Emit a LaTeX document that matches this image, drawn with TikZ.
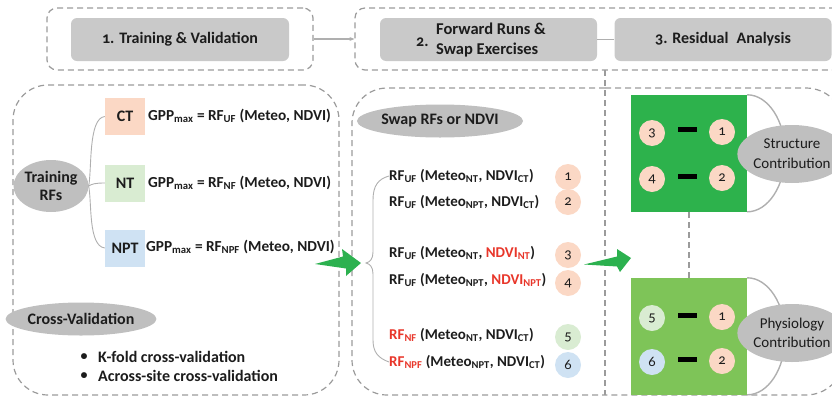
\documentclass[tikz,border=0pt]{standalone}
\usepackage{fontspec}
\setmainfont{Carlito}[Numbers=OldStyle]
\usetikzlibrary{shapes.geometric,arrows.meta,calc}
\newcommand{\fsz}[2]{\fontsize{#1}{#2}\selectfont}
\newcommand{\sbs}[1]{\textsubscript{#1}}
\definecolor{dashc}{RGB}{155,155,155}
\definecolor{boxgray}{RGB}{201,201,201}
\definecolor{ellgray}{RGB}{191,191,191}
\definecolor{pinkc}{RGB}{251,216,197}
\definecolor{greenc}{RGB}{217,236,210}
\definecolor{bluec}{RGB}{207,226,243}
\definecolor{dgreen}{RGB}{45,178,76}
\definecolor{lgreen}{RGB}{126,196,88}
\definecolor{redc}{RGB}{232,54,42}
\definecolor{arrgreen}{RGB}{44,177,79}
\definecolor{textc}{RGB}{28,28,28}
\definecolor{linec}{RGB}{175,175,175}
\tikzset{
  panel/.style={draw=dashc, line width=1.2pt, dash pattern=on 6pt off 4pt},
  titlebox/.style={fill=boxgray, rounded corners=6pt, minimum height=43pt, inner sep=0pt, text=textc, font=\fsz{16}{19}\bfseries},
  grayell/.style={ellipse, fill=ellgray, inner sep=0pt, text=textc, align=center},
  sitebox/.style={minimum width=40pt, minimum height=37pt, inner sep=0pt, text=textc, font=\fsz{16}{18}\bfseries},
  formula/.style={anchor=west, inner sep=0pt, text=textc, font=\fsz{15.3}{17}\bfseries},
  midline/.style={anchor=west, inner sep=0pt, text=textc, font=\fsz{15}{17}\bfseries},
  numc/.style={circle, minimum size=26pt, inner sep=0pt, text=textc, font=\fsz{14.5}{16}},
  minusbar/.style={fill=black, minimum width=19pt, minimum height=5pt, inner sep=0pt},
  thinline/.style={draw=linec, line width=0.9pt},
  arcline/.style={draw=linec, line width=1.4pt},
  bigarrow/.style={fill=arrgreen, draw=none}
}
\begin{document}
\begin{tikzpicture}[x=1pt,y=-1pt]
\useasboundingbox (0,0) rectangle (832,402);
% ---- top row
\node[panel, rounded corners=10pt, minimum width=266pt, minimum height=62pt, inner sep=0pt] (d1) at (180,39) {};
\node[panel, rounded corners=10pt, minimum width=490pt, minimum height=62pt, inner sep=0pt] (d23) at (600,39) {};
\draw[draw=linec, line width=1.2pt, -{Stealth[length=5pt,width=4pt]}] (d1.east) -- (d23.west);
\node[titlebox, minimum width=218pt] (t1) at (180,39.5) {1. Training \& Validation};
\node[titlebox, minimum width=217pt] (t2) at (488.5,39.5) {};
\node[titlebox, minimum width=217pt] (t3) at (723,39.5) {3. Residual\; Analysis};
\draw[thinline, line width=1.4pt] (t2.east) -- (t3.west);
\node[anchor=west, inner sep=0pt, text=textc, font=\fsz{16}{19}\bfseries] (t2n) at (416,42) {2.};
\node[anchor=west, inner sep=0pt, align=left, text=textc, font=\fsz{16.5}{20}\bfseries] (t2t) at (436,40) {Forward Runs \&\\Swap Exercises};
% ---- panels
\node[panel, rounded corners=35pt, minimum width=326pt, minimum height=310pt, inner sep=0pt] (lp) at (176,240) {};
\draw[panel, rounded corners=35pt] (605,88) -- (352,88) -- (352,395) -- (605,395);
\draw[panel, rounded corners=38pt] (605,88) -- (844,88) -- (844,395) -- (605,395);
\draw[panel] (605,70) -- (605,395);
% ---- left panel
\node[grayell, minimum width=65pt, minimum height=52pt, font=\fsz{16}{18}\bfseries] (tr) at (51,186) {Training\\RFs};
\node[sitebox, fill=pinkc] (ct) at (125,116.5) {CT};
\node[sitebox, fill=greenc] (nt) at (125,183) {NT};
\node[sitebox, fill=bluec] (npt) at (125,248) {NPT};
\draw[thinline] (tr.east) .. controls (92,170) and (88,118) .. (ct.west);
\draw[thinline] (tr.east) .. controls (92,184) and (95,183) .. (nt.west);
\draw[thinline] (tr.east) .. controls (92,202) and (88,246) .. (npt.west);
\node[formula] (f1) at (148,116) {GPP\sbs{max} = RF\sbs{UF} (Meteo, NDVI)};
\node[formula] (f2) at (148,183) {GPP\sbs{max} = RF\sbs{NF} (Meteo, NDVI)};
\node[formula] (f3) at (146,247) {GPP\sbs{max} = RF\sbs{NPF} (Meteo, NDVI)};
\node[grayell, minimum width=128pt, minimum height=33pt, font=\fsz{16}{18}\bfseries] (cv) at (81,319) {Cross-Validation};
\node[inner sep=0pt, text=textc, font=\fsz{14}{15}\bfseries] (b1) at (84,357) {\textbullet};
\node[formula, font=\fsz{16}{18}\bfseries] (k1) at (98,357) {K-fold cross-validation};
\node[inner sep=0pt, text=textc, font=\fsz{14}{15}\bfseries] (b2) at (84,376) {\textbullet};
\node[formula, font=\fsz{16}{18}\bfseries] (k2) at (98,376) {Across-site cross-validation};
% green arrows
\fill[bigarrow] (315,264) -- (343,256.5) -- (342,249) -- (361,263) -- (346,276) -- (346,268.5) -- cycle;
\fill[bigarrow] (584,264.5) -- (617,256.5) -- (617,249) -- (631,258) -- (620,272) -- (617,266.5) -- cycle;
% ---- middle panel
\node[grayell, minimum width=146pt, minimum height=33pt, font=\fsz{16}{18}\bfseries] (sw) at (440,121) {Swap RFs or NDVI};
\node[midline] (l1) at (389,176) {RF\sbs{UF} (Meteo\sbs{NT}, NDVI\sbs{CT})};
\node[midline] (l2) at (389,202) {RF\sbs{UF} (Meteo\sbs{NPT}, NDVI\sbs{CT})};
\node[midline] (l3) at (389,253) {RF\sbs{UF} (Meteo\sbs{NT}, \textcolor{redc}{NDVI\sbs{NT}})};
\node[midline] (l4) at (389,280) {RF\sbs{UF} (Meteo\sbs{NPT}, \textcolor{redc}{NDVI\sbs{NPT}})};
\node[midline] (l5) at (389,335) {\textcolor{redc}{RF\sbs{NF}} (Meteo\sbs{NT}, NDVI\sbs{CT})};
\node[midline] (l6) at (389,362) {\textcolor{redc}{RF\sbs{NPF}} (Meteo\sbs{NPT}, NDVI\sbs{CT})};
\node[numc, fill=pinkc] (m1) at (568,177) {1};
\node[numc, fill=pinkc] (m2) at (568,202) {2};
\node[numc, fill=pinkc] (m3) at (568,255) {3};
\node[numc, fill=pinkc] (m4) at (568,283) {4};
\node[numc, fill=greenc] (m5) at (568,337) {5};
\node[numc, fill=bluec] (m6) at (568,365) {6};
\coordinate (brtip) at (366,263);
\draw[thinline] (l1.west) .. controls (378,179) and (373,186) .. (373,200) -- (373,252) .. controls (373,259) and (370,262) .. (brtip) .. controls (370,264) and (373,267) .. (373,274) -- (373,340) .. controls (373,352) and (378,358) .. (l6.west);
% ---- right panel
\node[fill=dgreen, minimum width=116pt, minimum height=117pt, inner sep=0pt] (g1) at (689,153.5) {};
\node[fill=lgreen, minimum width=116pt, minimum height=117pt, inner sep=0pt] (g2) at (689,336.5) {};
\draw[panel] (g1.south) -- (g2.north);
\draw[arcline] (g1.north east) arc[start angle=-90, end angle=90, x radius=38, y radius=58.5];
\draw[arcline] (g2.north east) arc[start angle=-90, end angle=90, x radius=38, y radius=58.5];
\node[numc, fill=pinkc] (r3) at (652,133) {3};
\node[numc, fill=pinkc] (r1) at (722,132) {1};
\node[numc, fill=pinkc] (r4) at (652,179) {4};
\node[numc, fill=pinkc] (r2) at (722,178) {2};
\path (r3) -- (r1) node[midway, minusbar, yshift=3pt] (bar1) {};
\path (r4) -- (r2) node[midway, minusbar, yshift=2pt] (bar2) {};
\node[numc, fill=greenc] (r5) at (652,318) {5};
\node[numc, fill=pinkc] (r1b) at (722,317) {1};
\node[numc, fill=bluec] (r6) at (652,362) {6};
\node[numc, fill=pinkc] (r2b) at (722,361) {2};
\path (r5) -- (r1b) node[midway, minusbar, yshift=2pt] (bar3) {};
\path (r6) -- (r2b) node[midway, minusbar, yshift=2pt] (bar4) {};
\node[grayell, minimum width=90pt, minimum height=58pt, font=\fsz{15}{20}] (sc) at (792,154) {Structure\\Contribution};
\node[grayell, minimum width=90pt, minimum height=58pt, font=\fsz{15}{19}] (pc) at (792,333) {Physiology\\Contribution};
\end{tikzpicture}
\end{document}
